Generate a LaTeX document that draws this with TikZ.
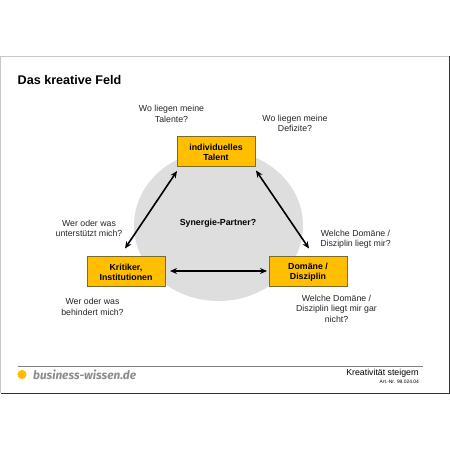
\documentclass[tikz,border=0pt]{standalone}
\usepackage{fontspec}
\setmainfont{Liberation Sans}
\newfontfamily\logofont{Fira Sans}
\usetikzlibrary{arrows.meta}
\definecolor{boxfill}{RGB}{255,190,0}
\definecolor{boxline}{RGB}{125,105,40}
\definecolor{blob}{RGB}{222,222,222}
\newcommand{\toppad}{\rule{0pt}{9pt}}
\tikzset{
 x=1pt,y=-1pt,
 pbox/.style={draw=boxline,line width=0.8pt,fill=boxfill,minimum width=78pt,minimum height=30pt,inner sep=0pt,align=center,font=\fontsize{8.8}{10.4}\selectfont\bfseries,text=black},
 ask/.style={align=center,inner sep=0pt,font=\fontsize{8.75}{10.5}\selectfont,text=black!85},
 link/.style={line width=1.6pt,{Stealth[length=7pt,width=6pt]}-{Stealth[length=7pt,width=6pt]}},
}
\begin{document}
\begin{tikzpicture}
\useasboundingbox (0,0) rectangle (450,450);
\fill[white] (0,0) rectangle (450,450);
\draw[black!22,line width=0.8pt] (0.5,393) -- (0.5,56) -- (449,56);
\draw[black!80,line width=0.8pt] (449,56) -- (449,393) -- (0.5,393);
\node[anchor=west,inner sep=0pt,font=\fontsize{12.6}{15}\selectfont\bfseries] (title) at (17.5,80) {Das kreative Feld};
\fill[blob] (218.5,225.5) ellipse [x radius=84.5, y radius=75.5];
\node[pbox] (talent) at (216,151) {\toppad individuelles\\Talent};
\node[pbox] (krit) at (126,271) {\toppad Kritiker,\\Institutionen};
\node[pbox] (dom) at (308,271) {\toppad Domäne /\\Disziplin};
\coordinate (a1) at (177,171);
\coordinate (a2) at (125,248.5);
\coordinate (b1) at (256,170.5);
\coordinate (b2) at (309,248.5);
\coordinate (c1) at (170,271);
\coordinate (c2) at (267,271);
\draw[link] (a1) -- (a2);
\draw[link] (b1) -- (b2);
\draw[link] (c1) -- (c2);
\node[font=\fontsize{8.8}{11}\selectfont\bfseries,inner sep=0pt] (syn) at (218,223) {Synergie-Partner?};
\node[ask] (q1) at (171.5,114) {Wo liegen meine\\Talente?};
\node[ask] (q2) at (295,123.5) {Wo liegen meine\\Defizite?};
\node[ask] (q3) at (89,228.5) {Wer oder was\\unterstützt mich?};
\node[ask] (q4) at (355.5,239) {Welche Domäne /\\Disziplin liegt mir?};
\node[ask] (q5) at (92.5,307) {Wer oder was\\behindert mich?};
\node[ask] (q6) at (336.5,308.5) {Welche Domäne /\\Disziplin liegt mir gar\\nicht?};
\coordinate (f1) at (17.5,366);
\coordinate (f2) at (423,366);
\draw[black!50,line width=0.7pt] (f1) -- (f2);
\fill[boxfill] (22,374.5) circle (4.6);
\node[anchor=west,inner sep=0pt,text=black!45,font=\logofont\fontsize{11.8}{14}\selectfont\bfseries\itshape] (logo) at (33,375) {business-wissen.de};
\node[anchor=east,inner sep=0pt,font=\fontsize{8.75}{11}\selectfont] (ft) at (419,373.5) {Kreativität steigern};
\node[anchor=east,inner sep=0pt,font=\fontsize{4.9}{5}\selectfont] (nr) at (419,382) {Art.-Nr. 99.024.04};
\end{tikzpicture}
\end{document}
